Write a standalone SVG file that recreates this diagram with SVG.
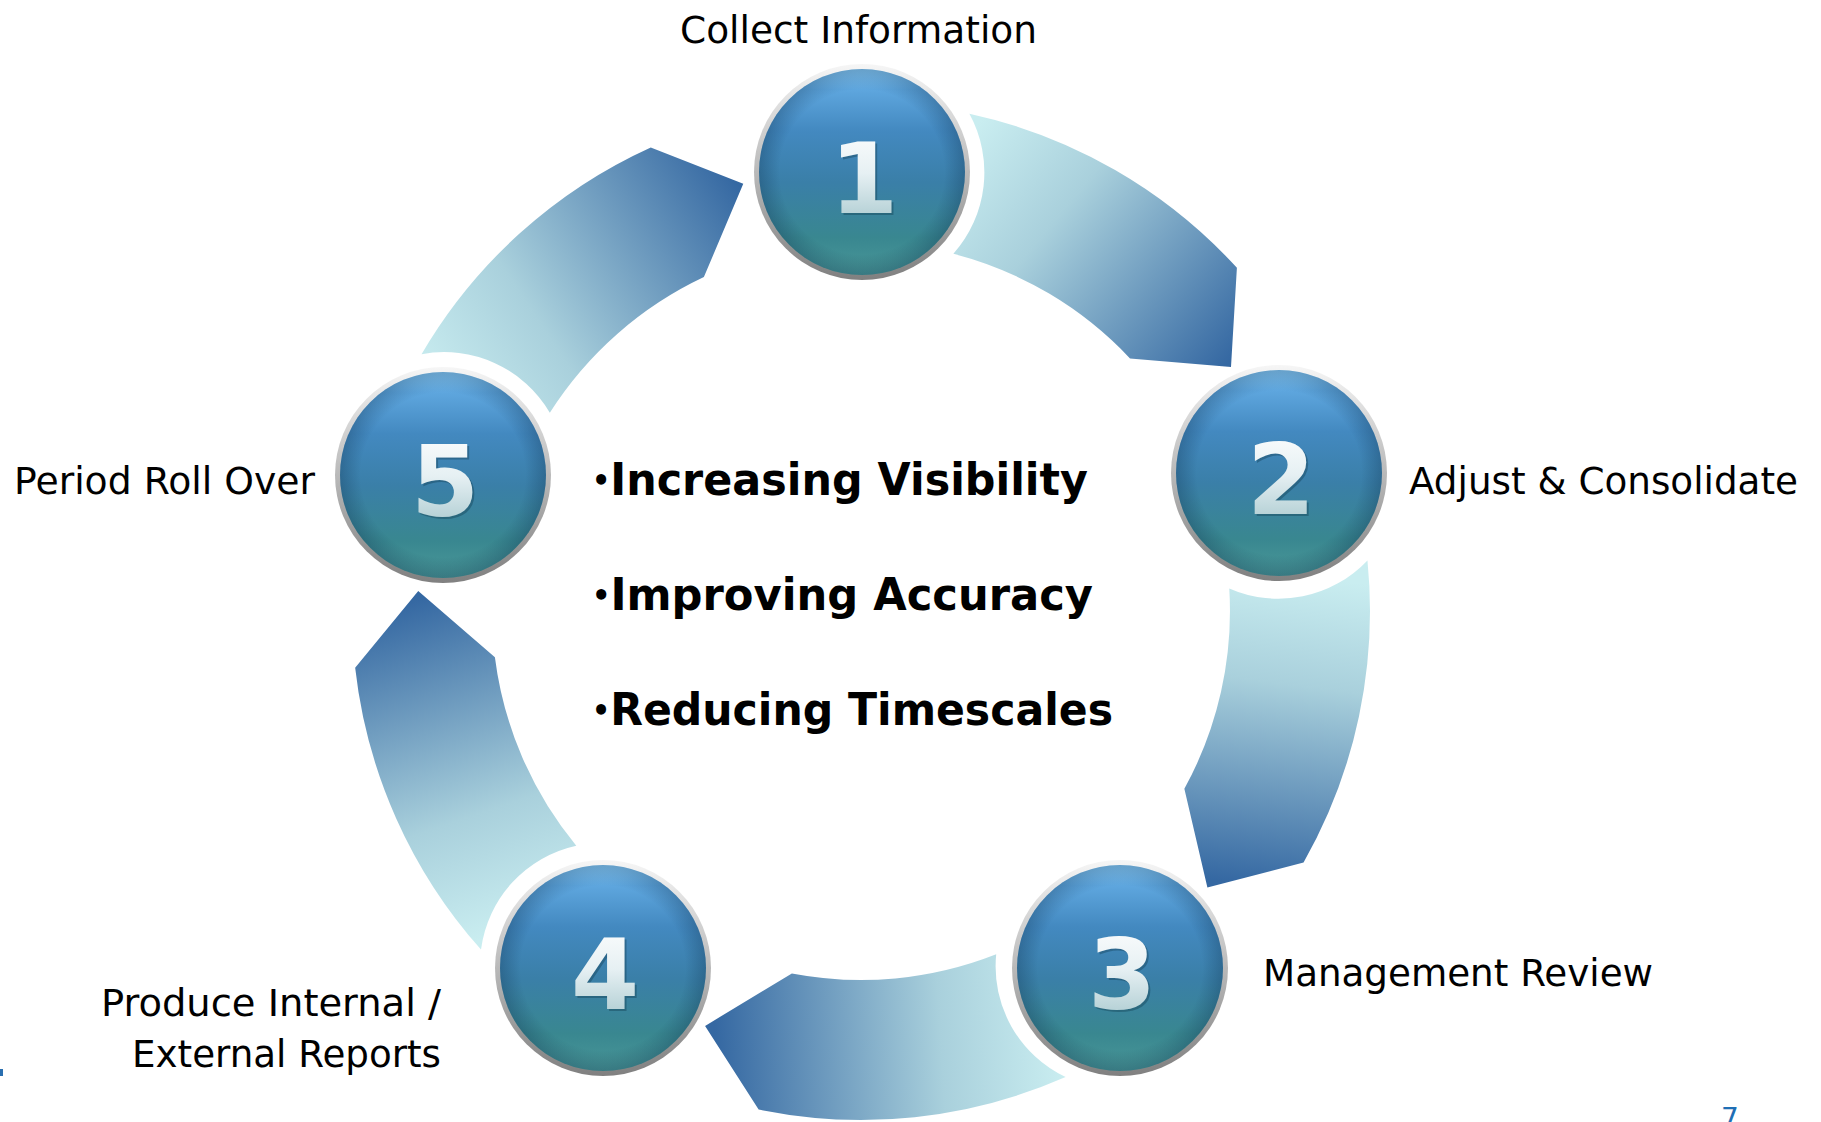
<svg xmlns="http://www.w3.org/2000/svg" width="1821" height="1122" viewBox="0 0 1821 1122">
<style>
.s0{stop-color:#c9edf0}
.s1{stop-color:#a9d0dc}
.s2{stop-color:#3568a2}
.lbl{font-family:"DejaVu Sans",Verdana,sans-serif;font-size:37px;fill:#000}
.bul{font-family:"DejaVu Sans",Verdana,sans-serif;font-weight:bold;font-size:45px;fill:#000}
.dot{font-size:30px}
.num{font-family:"DejaVu Sans",Verdana,sans-serif;font-weight:bold;font-size:98px;text-anchor:middle}
.sh{fill:#0c3446;fill-opacity:0.35}
.dg{fill:url(#dig)}
</style>
<defs>
<linearGradient id="ga0" gradientUnits="userSpaceOnUse" x1="965" y1="140" x2="1230" y2="360"><stop offset="0" class="s0"/><stop offset="0.35" class="s1"/><stop offset="1" class="s2"/></linearGradient>
<linearGradient id="ga1" gradientUnits="userSpaceOnUse" x1="1295" y1="575" x2="1255" y2="885" gradientTransform="rotate(-72 861 611)"><stop offset="0" class="s0"/><stop offset="0.35" class="s1"/><stop offset="1" class="s2"/></linearGradient>
<linearGradient id="ga2" gradientUnits="userSpaceOnUse" x1="1060" y1="1010" x2="715" y2="1030" gradientTransform="rotate(-144 861 611)"><stop offset="0" class="s0"/><stop offset="0.35" class="s1"/><stop offset="1" class="s2"/></linearGradient>
<linearGradient id="ga3" gradientUnits="userSpaceOnUse" x1="495" y1="935" x2="385" y2="610" gradientTransform="rotate(-216 861 611)"><stop offset="0" class="s0"/><stop offset="0.35" class="s1"/><stop offset="1" class="s2"/></linearGradient>
<linearGradient id="ga4" gradientUnits="userSpaceOnUse" x1="425" y1="385" x2="735" y2="180" gradientTransform="rotate(-288 861 611)"><stop offset="0" class="s0"/><stop offset="0.35" class="s1"/><stop offset="1" class="s2"/></linearGradient>
<path id="arrow" d="M 969.4 113.7 A 509 509 0 0 1 1236.9 267.8 L 1231 367 L 1130 358.4 A 369 369 0 0 0 953.4 253.8 A 122.5 122.5 0 0 0 969.4 113.7 Z"/>
<linearGradient id="rim" x1="0" y1="0" x2="0" y2="1"><stop offset="0" stop-color="#f6f6f6"/><stop offset="0.5" stop-color="#b9b9b9"/><stop offset="1" stop-color="#808080"/></linearGradient>
<linearGradient id="ball" x1="0" y1="0" x2="0" y2="1"><stop offset="0" stop-color="#8ccffc"/><stop offset="0.1" stop-color="#5ea6de"/><stop offset="0.3" stop-color="#4389c0"/><stop offset="0.55" stop-color="#3a7fa8"/><stop offset="0.82" stop-color="#398790"/><stop offset="1" stop-color="#4a9898"/></linearGradient>
<radialGradient id="shade" cx="0.5" cy="0.5" r="0.5"><stop offset="0.8" stop-color="#0a2a48" stop-opacity="0"/><stop offset="1" stop-color="#0a2a48" stop-opacity="0.28"/></radialGradient>
<linearGradient id="dig" x1="0" y1="0" x2="0" y2="1"><stop offset="0" stop-color="#ffffff"/><stop offset="0.45" stop-color="#e6f0f3"/><stop offset="1" stop-color="#9ec2c8"/></linearGradient>
<g id="ballg"><circle r="108" fill="url(#rim)"/><circle r="103" fill="url(#ball)"/><circle r="103" fill="url(#shade)"/></g>
</defs>
<rect width="1821" height="1122" fill="#fff"/>
<g id="connectors">
<use href="#arrow" fill="url(#ga0)"/>
<use href="#arrow" fill="url(#ga1)" transform="rotate(72 861 611)"/>
<use href="#arrow" fill="url(#ga2)" transform="rotate(144 861 611)"/>
<use href="#arrow" fill="url(#ga3)" transform="rotate(216 861 611)"/>
<use href="#arrow" fill="url(#ga4)" transform="rotate(288 861 611)"/>
</g>
<g id="node1">
<use href="#ballg" x="862" y="172"/>
<text class="num sh" x="866" y="215">1</text><text class="num dg" x="864" y="213">1</text>
<text class="lbl" x="680" y="43" textLength="357" lengthAdjust="spacingAndGlyphs">Collect Information</text>
</g>
<g id="node2">
<use href="#ballg" x="1279" y="473"/>
<text class="num sh" x="1283" y="516">2</text><text class="num dg" x="1281" y="514">2</text>
<text class="lbl" x="1409" y="494" textLength="389" lengthAdjust="spacingAndGlyphs">Adjust &amp; Consolidate</text>
</g>
<g id="node3">
<use href="#ballg" x="1120" y="968"/>
<text class="num sh" x="1124" y="1011">3</text><text class="num dg" x="1122" y="1009">3</text>
<text class="lbl" x="1263" y="986" textLength="390" lengthAdjust="spacingAndGlyphs">Management Review</text>
</g>
<g id="node4">
<use href="#ballg" x="603" y="968"/>
<text class="num sh" x="607" y="1011">4</text><text class="num dg" x="605" y="1009">4</text>
<text class="lbl" x="441" y="1016" text-anchor="end" textLength="340" lengthAdjust="spacingAndGlyphs">Produce Internal /</text>
<text class="lbl" x="441" y="1067" text-anchor="end" textLength="309" lengthAdjust="spacingAndGlyphs">External Reports</text>
</g>
<g id="node5">
<use href="#ballg" x="443" y="475"/>
<text class="num sh" x="447" y="518">5</text><text class="num dg" x="445" y="516">5</text>
<text class="lbl" x="14" y="494" textLength="301" lengthAdjust="spacingAndGlyphs">Period Roll Over</text>
</g>
<g id="center-text">
<text class="bul" x="592" y="495" textLength="496" lengthAdjust="spacingAndGlyphs"><tspan class="dot" dy="-4">•</tspan><tspan dy="4">Increasing Visibility</tspan></text>
<text class="bul" x="592" y="610" textLength="501" lengthAdjust="spacingAndGlyphs"><tspan class="dot" dy="-4">•</tspan><tspan dy="4">Improving Accuracy</tspan></text>
<text class="bul" x="592" y="725" textLength="521" lengthAdjust="spacingAndGlyphs"><tspan class="dot" dy="-4">•</tspan><tspan dy="4">Reducing Timescales</tspan></text>
</g>
<text x="1721" y="1128" font-family="DejaVu Sans, sans-serif" font-size="28" fill="#1f6fb5">7</text>
<rect x="0" y="1069" width="3" height="7" fill="#2a6fb0"/>
</svg>
